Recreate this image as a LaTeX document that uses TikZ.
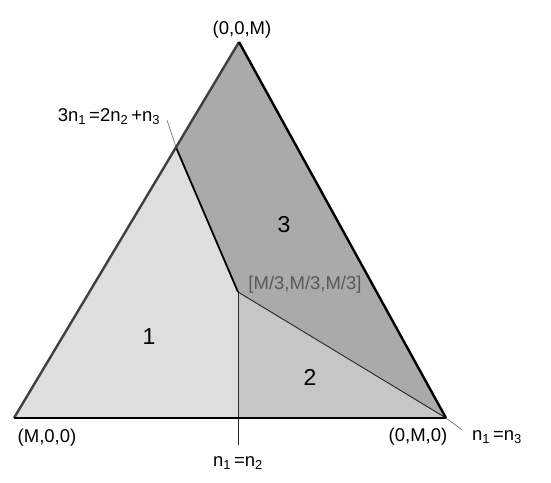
\documentclass[tikz,border=0pt]{standalone}
\usepackage{fontspec}
\setmainfont{Liberation Sans}
\usetikzlibrary{calc}
\newcommand{\lb}{\fontsize{18.5}{20}\selectfont}
\newcommand{\rg}{\fontsize{23}{25}\selectfont}
\definecolor{regA}{RGB}{222,222,222}
\definecolor{regB}{RGB}{198,198,198}
\definecolor{regC}{RGB}{170,170,170}

\begin{document}
\begin{tikzpicture}[
  x=1pt, y=1pt,
  lbl/.style={font=\lb, inner sep=1pt},
  reg/.style={font=\rg, inner sep=1pt},
  edge/.style={line width=2.4pt, line join=round},
  split/.style={line width=0.9pt, black!85},
  guide/.style={line width=0.6pt, black!60},
]
  \useasboundingbox (0,0) rectangle (551,482);
  % ---------------- corners of the simplex
  \coordinate (L) at (14,64);
  \coordinate (R) at (446,64);
  \coordinate (T) at (239,440);
  \coordinate (P) at ($(L)!0.72!(T)$);
  \coordinate (C) at (238,190);
  \coordinate (B) at (238,64);
  \coordinate (g12) at (238,37);
  \coordinate (g13) at (462,52);
  \coordinate (g3) at (167,362);

  % ---------------- regions
  \fill[regA] (L) -- (P) -- (C) -- (B) -- cycle;
  \fill[regB] (C) -- (B) -- (R) -- cycle;
  \fill[regC] (P) -- (T) -- (R) -- (C) -- cycle;

  % ---------------- boundaries
  \draw[split] (C) -- (g12);
  \draw[split] (C) -- (R);
  \draw[guide] (R) -- (g13);
  \draw[guide] (P) -- (g3);
  \draw[line width=1.8pt] (P) -- (C);
  \draw[edge, black!75] (L) -- (T);
  \draw[edge] (T) -- (R);
  \draw[line width=2.8pt] (L) -- (R);

  % ---------------- labels
  \node[lbl] (top) at (242,452) {(0,0,M)};
  \node[lbl] (left) at (47,44) {(M,0,0)};
  \node[lbl] (right) at (418,45) {(0,M,0)};
  \node[lbl] (eq13) at (497,45) {n\textsubscript{1}\,=n\textsubscript{3}};
  \node[lbl] (eq12) at (238,19) {n\textsubscript{1}\,=n\textsubscript{2}};
  \node[lbl] (eq3) at (109,365) {3n\textsubscript{1}\,=2n\textsubscript{2}\,+n\textsubscript{3}};
  \node[lbl, text=black!65] (mid) at (305,197) {[M/3,M/3,M/3]};
  \node[reg] (r1) at (149,145) {1};
  \node[reg] (r2) at (310,105) {2};
  \node[reg] (r3) at (284,257) {3};
\end{tikzpicture}
\end{document}
